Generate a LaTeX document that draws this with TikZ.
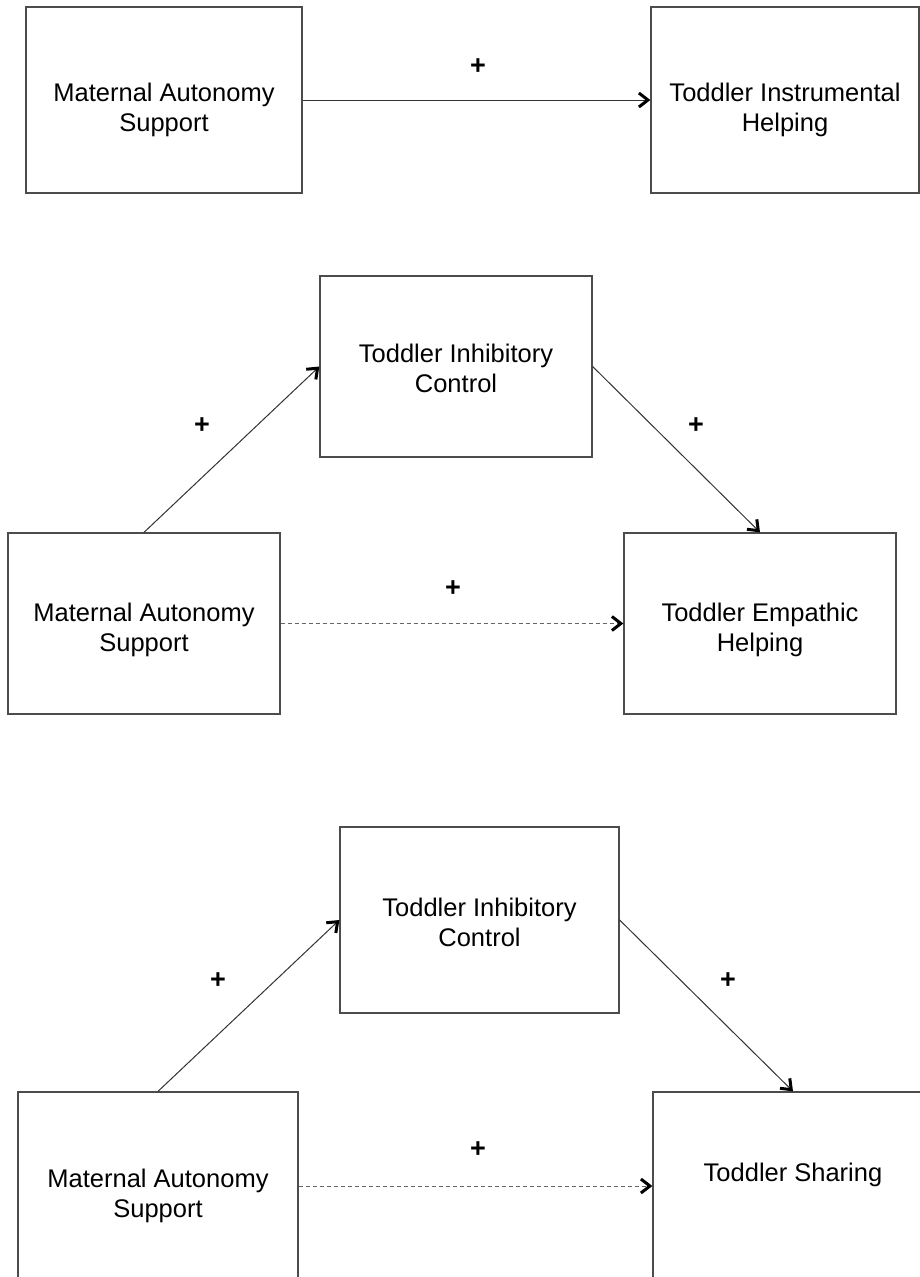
\documentclass[tikz,border=0pt]{standalone}
\usepackage{fontspec}
\setmainfont{Liberation Sans}
\usetikzlibrary{arrows.meta}

% two centred lines, set a little below the middle of the box
\newcommand{\vartext}[3][6pt]{\raisebox{-#1}[\height][\depth]{\begin{tabular}{@{}c@{}}#2\\#3\end{tabular}}}

\tikzset{
  var/.style={draw=black!70, line width=1.3pt, rectangle, inner sep=0pt,
    font=\fontsize{25.5}{30}\selectfont},
  sign/.style={font=\fontsize{27}{28}\selectfont\bfseries},
  effectline/.style={draw=black!80, line width=1pt,
    -{Straight Barb[length=9pt,width=14pt,line width=3pt,black]}},
  weakline/.style={effectline, draw=black!60, dash pattern=on 4pt off 3pt},
}

\begin{document}
\begin{tikzpicture}[x=1pt, y=-1pt]
  \useasboundingbox (0,0) rectangle (919,1277);

  % model 1: instrumental helping
  \node[var, minimum width=276pt, minimum height=186pt] (mas1) at (164,100) {\vartext[10pt]{Maternal Autonomy}{Support}};
  \node[var, minimum width=268pt, minimum height=186pt] (tih) at (785,100) {\vartext[10pt]{Toddler Instrumental}{Helping}};
  \draw[effectline] (mas1.east) -- (tih.west);
  \node[sign] (p1) at (478,67) {+};

  % model 2: empathic helping
  \node[var, minimum width=272pt, minimum height=181pt] (tic2) at (456,366.5) {\vartext[4.5pt]{Toddler Inhibitory}{Control}};
  \node[var, minimum width=272pt, minimum height=181pt] (mas2) at (144,623.5) {\vartext[6.5pt]{Maternal Autonomy}{Support}};
  \node[var, minimum width=272pt, minimum height=181pt] (teh) at (760,623.5) {\vartext[6.5pt]{Toddler Empathic}{Helping}};
  \draw[effectline] (mas2.north) -- (tic2.west);
  \draw[effectline] (tic2.east) -- (teh.north);
  \draw[weakline] (mas2.east) -- (teh.west);
  \node[sign] (p2a) at (202,426) {+};
  \node[sign] (p2b) at (696,426) {+};
  \node[sign] (p2c) at (453,589) {+};

  % model 3: sharing
  \node[var, minimum width=279pt, minimum height=186pt] (tic3) at (479.5,920) {\vartext[5pt]{Toddler Inhibitory}{Control}};
  \node[var, minimum width=280pt, minimum height=188pt] (mas3) at (158,1186) {\vartext[10pt]{Maternal Autonomy}{Support}};
  \node[var, minimum width=280pt, minimum height=188pt] (ts) at (793,1186) {\vartext[4pt]{Toddler Sharing}{\mbox{}}};
  \draw[effectline] (mas3.north) -- (tic3.west);
  \draw[effectline] (tic3.east) -- (ts.north);
  \draw[weakline] (mas3.east) -- (ts.west);
  \node[sign] (p3a) at (218,981) {+};
  \node[sign] (p3b) at (728,981) {+};
  \node[sign] (p3c) at (478,1150) {+};
\end{tikzpicture}
\end{document}
